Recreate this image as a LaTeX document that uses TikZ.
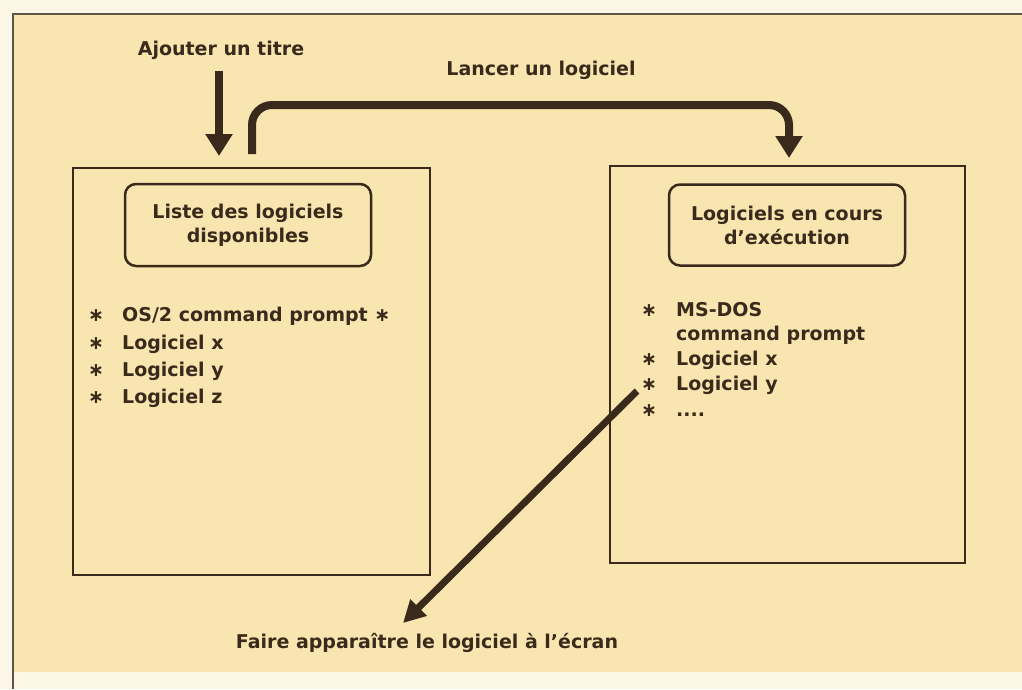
\documentclass[tikz,border=0pt]{standalone}
\usepackage{fontspec}
\setmainfont{DejaVu Sans}
\usepackage{tikz}
\usetikzlibrary{positioning, arrows.meta}
\usepackage{xcolor}
\definecolor{encre}{RGB}{58, 42, 28}
\definecolor{papier}{RGB}{249, 229, 176}
\definecolor{marge}{RGB}{252, 246, 230}

\tikzset{
  cadre/.style={draw=encre, line width=2pt, inner sep=0pt},
  titrebox/.style={draw=encre, line width=2.5pt, rounded corners=11pt, align=center,
    inner sep=0pt, text=encre, font=\fontsize{19}{24}\selectfont\bfseries},
  etiquette/.style={inner sep=0pt, text=encre, font=\fontsize{19}{24}\selectfont\bfseries},
  gros/.style={draw=encre, line width=8pt, -{Triangle[width=26pt,length=22pt]}},
}

\begin{document}
\begin{tikzpicture}[x=1pt, y=-1pt]
        \useasboundingbox (0,0) rectangle (1022,689);

        % ---- FOND ----
        \fill[marge]  (0,0) rectangle (1022,689);
        \fill[papier] (13,14) rectangle (1022,672);
        \draw[encre!80, line width=1.5pt] (13,689) -- (13,14) -- (1022,14);

        % ---- FENETRES ----
        \node[cadre, minimum width=357pt, minimum height=407pt] (dispo)   at (251.5, 371.5) {};
        \node[cadre, minimum width=355pt, minimum height=397pt] (encours) at (787.5, 364.5) {};

        \node[titrebox, minimum width=246pt, minimum height=82pt] (titreDispo)   at (248, 225) {Liste des logiciels\\disponibles};
        \node[titrebox, minimum width=236pt, minimum height=81pt] (titreEncours) at (787, 225) {Logiciels en cours\\d'exécution};

        % ---- LISTE DE GAUCHE ----
        \node[etiquette, anchor=base] (g1s) at (96, 321) {∗};
        \node[etiquette, anchor=base west] (g1) at (122, 321) {OS/2 command prompt ∗};
        \node[etiquette, anchor=base] (g2s) at (96, 349) {∗};
        \node[etiquette, anchor=base west] (g2) at (122, 349) {Logiciel x};
        \node[etiquette, anchor=base] (g3s) at (96, 376) {∗};
        \node[etiquette, anchor=base west] (g3) at (122, 376) {Logiciel y};
        \node[etiquette, anchor=base] (g4s) at (96, 403) {∗};
        \node[etiquette, anchor=base west] (g4) at (122, 403) {Logiciel z};

        % ---- LISTE DE DROITE ----
        \node[etiquette, anchor=base] (d1s) at (649, 316) {∗};
        \node[etiquette, anchor=base west] (d1) at (676, 316) {MS-DOS};
        \node[etiquette, anchor=base west] (d1b) at (676, 340) {command prompt};
        \node[etiquette, anchor=base] (d2s) at (649, 365) {∗};
        \node[etiquette, anchor=base west] (d2) at (676, 365) {Logiciel x};
        \node[etiquette, anchor=base] (d3s) at (649, 390) {∗};
        \node[etiquette, anchor=base west] (d3) at (676, 390) {Logiciel y};
        \node[etiquette, anchor=base] (d4s) at (649, 416) {∗};
        \node[etiquette, anchor=base west] (d4) at (676, 416) {....};

        % ---- LEGENDES ----
        \node[etiquette] (ajout)  at (221, 50)  {Ajouter un titre};
        \node[etiquette] (lancer) at (541, 70)  {Lancer un logiciel};
        \node[etiquette] (faire)  at (427, 643) {Faire apparaître le logiciel à l'écran};

        % ---- FLECHES ----
        \draw[gros, shorten <=12pt, shorten >=11pt] (ajout.south -| 219,0) -- ([xshift=-32.5pt]dispo.north);
        \draw[gros, rounded corners=20pt] ([xshift=0.5pt, yshift=13pt]dispo.north) -- ++(0,-49)
              -| ([xshift=1.5pt, yshift=7pt]encours.north);

        \coordinate (depart) at (637, 391);
        \coordinate (pointe) at (403, 623);
        \draw[gros, line width=7pt, -{Triangle[width=22pt,length=22pt]}] (depart) -- (pointe);
      \end{tikzpicture}
\end{document}
